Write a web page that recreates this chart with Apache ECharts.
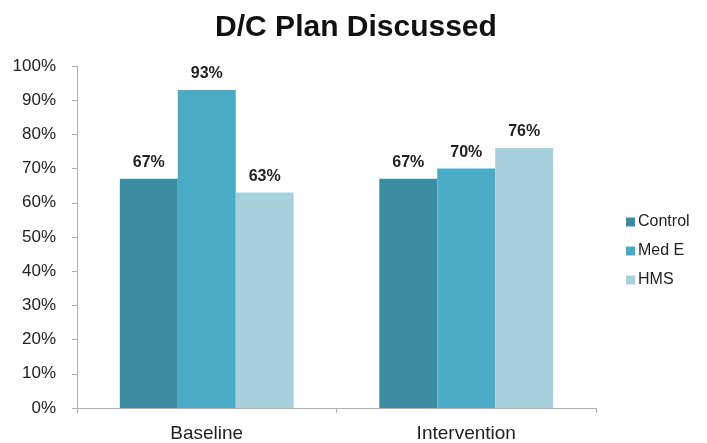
<!DOCTYPE html>
<html>
<head>
<meta charset="utf-8">
<script src="https://cdn.jsdelivr.net/npm/echarts@6/dist/echarts.min.js"></script>
<style>
  html, body { margin: 0; padding: 0; background: #fff; }
  #chart { width: 707px; height: 443px; }
</style>
</head>
<body>
<div id="chart"></div>
<script>
// Share of discharge plans discussed, by phase and group
const categories = ['Baseline', 'Intervention'];
const seriesNames = ['Control', 'Med E', 'HMS'];
const controlValues = [67, 67];
const medEValues = [93, 70];
const hmsValues = [63, 76];
const yTicks = [0, 10, 20, 30, 40, 50, 60, 70, 80, 90, 100];

const colors = ['#3b8ba1', '#4aabc6', '#a8cfdd'];
const values = [controlValues, medEValues, hmsValues];

const chart = echarts.init(document.getElementById('chart'));

chart.setOption({
  animation: false,
  textStyle: { fontFamily: 'Liberation Sans, Arial, sans-serif' },
  title: {
    text: 'D/C Plan Discussed',
    left: 351,
    textAlign: 'center',
    top: 8,
    textStyle: { fontSize: 30, fontWeight: 'bold', color: '#111' }
  },
  legend: {
    orient: 'vertical',
    left: 621,
    top: 209,
    itemWidth: 9,
    itemHeight: 9,
    itemGap: 13,
    icon: 'rect',
    textStyle: { fontSize: 16, color: '#222', padding: [0, 0, 0, -2] },
    data: seriesNames
  },
  grid: { left: 77, right: 111, top: 66, bottom: 35 },
  xAxis: {
    type: 'category',
    data: categories,
    axisLine: { lineStyle: { color: '#b0b0b0', width: 1 } },
    axisTick: { show: true, length: 5, lineStyle: { color: '#b0b0b0' } },
    axisLabel: { fontSize: 19, color: '#222', margin: 16 }
  },
  yAxis: {
    type: 'value',
    min: yTicks[0],
    max: yTicks[yTicks.length - 1],
    interval: yTicks[1] - yTicks[0],
    splitLine: { show: false },
    axisLine: { show: true, lineStyle: { color: '#b0b0b0', width: 1 } },
    axisTick: { show: true, length: 5, lineStyle: { color: '#b0b0b0' } },
    axisLabel: { fontSize: 17, color: '#222', margin: 21, formatter: '{value}%' }
  },
  series: seriesNames.map((name, i) => ({
    name: name,
    type: 'bar',
    data: values[i],
    barGap: '0%',
    barCategoryGap: '33%',
    itemStyle: { color: colors[i] },
    label: {
      show: true,
      position: 'top',
      distance: 8,
      formatter: '{c}%',
      fontSize: 16,
      fontWeight: 'bold',
      color: '#222'
    }
  }))
});
</script>
</body>
</html>
